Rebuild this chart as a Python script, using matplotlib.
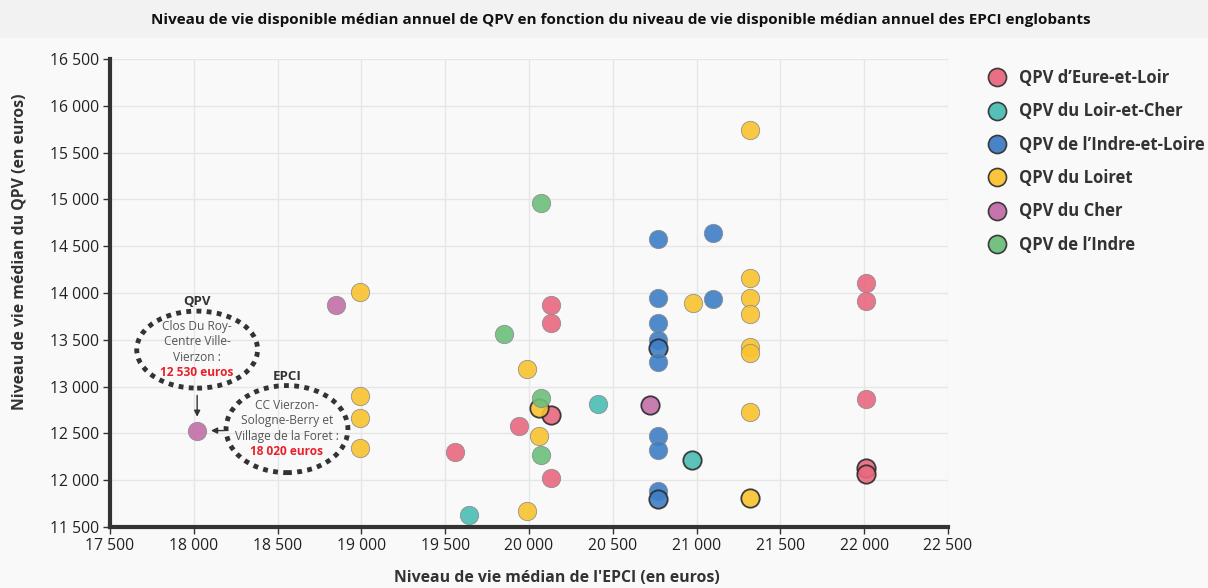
import matplotlib
matplotlib.use("Agg")
import matplotlib.pyplot as plt
from matplotlib.patches import Ellipse, Rectangle
from matplotlib.ticker import FuncFormatter, MultipleLocator
from matplotlib.lines import Line2D

plt.rcParams['font.family'] = ['Open Sans', 'DejaVu Sans']

# Données (x = niveau de vie EPCI, y = niveau de vie QPV)
eure_x = [19560, 19940, 20130, 20130, 20130, 20130, 22010, 22010, 22010, 22010, 22010]
eure_y = [12300, 12580, 13870, 13680, 12700, 12020, 14110, 13910, 12870, 12130, 12070]
eure_contour = [0, 0, 0, 0, 1, 0, 0, 0, 0, 1, 1]

loircher_x = [19640, 20410, 20975]
loircher_y = [11630, 12810, 12220]
loircher_contour = [0, 0, 1]

indreloire_x = [20770, 20770, 20770, 20770, 20770, 20770, 20770, 20770, 20770, 20770, 21100, 21100]
indreloire_y = [14580, 13950, 13680, 13500, 13410, 13265, 12470, 12320, 11885, 11800, 14640, 13940]
indreloire_contour = [0, 0, 0, 0, 1, 0, 0, 0, 0, 1, 0, 0]

loiret_x = [21320, 21320, 21320, 21320, 21320, 21320, 21320, 21320, 20980,
            18990, 18990, 18990, 18990, 19990, 20060, 20060, 19990]
loiret_y = [15740, 14160, 13950, 13775, 13425, 13360, 12730, 11810, 13890,
            14010, 12900, 12660, 12345, 13190, 12770, 12470, 11670]
loiret_contour = [0, 0, 0, 0, 0, 0, 0, 1, 0, 0, 0, 0, 0, 0, 1, 0, 0]

cher_x = [18020, 18850, 20720]
cher_y = [12530, 13870, 12800]
cher_contour = [0, 0, 1]

indre_x = [20070, 19850, 20070, 20070]
indre_y = [14960, 13560, 12880, 12270]
indre_contour = [0, 0, 0, 0]

series = [
    ("QPV d\u2019Eure-et-Loir", eure_x, eure_y, eure_contour, '#e9687f'),
    ("QPV du Loir-et-Cher", loircher_x, loircher_y, loircher_contour, '#4bbdb4'),
    ("QPV de l\u2019Indre-et-Loire", indreloire_x, indreloire_y, indreloire_contour, '#3f7ec6'),
    ("QPV du Loiret", loiret_x, loiret_y, loiret_contour, '#f9c32f'),
    ("QPV du Cher", cher_x, cher_y, cher_contour, '#c36ea8'),
    ("QPV de l\u2019Indre", indre_x, indre_y, indre_contour, '#6cbf7c'),
]

fig = plt.figure(figsize=(12.08, 5.88), dpi=100, facecolor='#f9f9f9')
fig.patches.append(Rectangle((0, 1 - 38 / 588), 1, 38 / 588, transform=fig.transFigure,
                             facecolor='#f2f2f2', edgecolor='none', zorder=0))
ax = fig.add_axes([110 / 1208, 1 - 527 / 588, 838 / 1208, 468 / 588])
ax.set_facecolor('#f9f9f9')

for nom, xs, ys, contour, couleur in series:
    for x, y, c in zip(xs, ys, contour):
        ax.scatter(x, y, s=175, color=couleur, alpha=0.9, zorder=3,
                   edgecolors='#2b2b2b' if c else '#8a8a8a',
                   linewidths=1.3 if c else 0.6)

ax.set_xlim(17500, 22500)
ax.set_ylim(11500, 16500)
ax.xaxis.set_major_locator(MultipleLocator(500))
ax.yaxis.set_major_locator(MultipleLocator(500))
fmt = FuncFormatter(lambda v, p: f"{int(v):,}".replace(',', ' '))
ax.xaxis.set_major_formatter(fmt)
ax.yaxis.set_major_formatter(fmt)
ax.grid(True, color='#e6e6e6', linewidth=1, zorder=0)
ax.set_axisbelow(True)
for s in ['top', 'right']:
    ax.spines[s].set_visible(False)
for s in ['left', 'bottom']:
    ax.spines[s].set_linewidth(3)
    ax.spines[s].set_color('#333333')
ax.tick_params(axis='both', length=5, width=1, color='#333333', labelsize=11.3,
               labelcolor='#222222', pad=3)

fig.text(621 / 1208, 1 - 20 / 588,
         "Niveau de vie disponible médian annuel de QPV en fonction du niveau de vie disponible médian annuel des EPCI englobants",
         ha='center', va='center', fontsize=11, fontweight='bold', color='#111111')
fig.text(557 / 1208, 1 - 578 / 588, "Niveau de vie médian de l'EPCI (en euros)",
         ha='center', va='center', fontsize=11.4, fontweight='bold', color='#333333')
fig.text(20 / 1208, 1 - 252 / 588, "Niveau de vie médian du QPV (en euros)",
         ha='center', va='center', rotation=90, fontsize=11.4, fontweight='bold', color='#333333')

# Annotations autour du QPV Clos Du Roy
qx, qy = cher_x[0], cher_y[0]
pointille = dict(fill=False, edgecolor='#333333', linewidth=3.5, linestyle=(0, (1, 1.1)), zorder=4)
ax.add_patch(Ellipse((qx, qy + 865), 721, 823, **pointille))
ax.add_patch(Ellipse((qx + 536, qy + 16), 727, 930, **pointille))
ax.text(qx, qy + 1380, "QPV", ha='center', va='center', fontsize=9.5, fontweight='bold', color='#333333')
ax.text(qx, qy + 951, "Clos Du Roy-\nCentre Ville-\nVierzon :", ha='center', va='center',
        fontsize=8.6, color='#555555', linespacing=1.25)
ax.text(qx, qy + 620, "12 530 euros", ha='center', va='center', fontsize=8.6,
        fontweight='bold', color='#e8212b')
ax.text(qx + 536, qy + 577, "EPCI", ha='center', va='center', fontsize=9.5, fontweight='bold', color='#333333')
ax.text(qx + 536, qy + 107, "CC Vierzon-\nSologne-Berry et\nVillage de la Foret :", ha='center', va='center',
        fontsize=8.6, color='#555555', linespacing=1.25)
ax.text(qx + 536, qy - 224, "18 020 euros", ha='center', va='center', fontsize=8.6,
        fontweight='bold', color='#e8212b')
ax.annotate("", xy=(qx, qy + 118), xytext=(qx, qy + 406),
            arrowprops=dict(arrowstyle='-|>', color='#333333', lw=1, mutation_scale=9))
ax.annotate("", xy=(qx + 66, qy), xytext=(qx + 173, qy),
            arrowprops=dict(arrowstyle='-|>', color='#333333', lw=1, mutation_scale=9))

handles = [Line2D([], [], marker='o', linestyle='none', markersize=13,
                  markerfacecolor=c, markeredgecolor='#333333', markeredgewidth=1.2, alpha=0.95)
           for _, _, _, _, c in series]
fig.legend(handles, [n for n, *_ in series], loc='upper left',
           bbox_to_anchor=(965 / 1208, 1 - 54 / 588), frameon=False,
           prop={'weight': 'bold', 'size': 12}, labelspacing=0.92, handletextpad=0.35,
           labelcolor='#333333')

fig.savefig('out.png', dpi=100, facecolor=fig.get_facecolor())
